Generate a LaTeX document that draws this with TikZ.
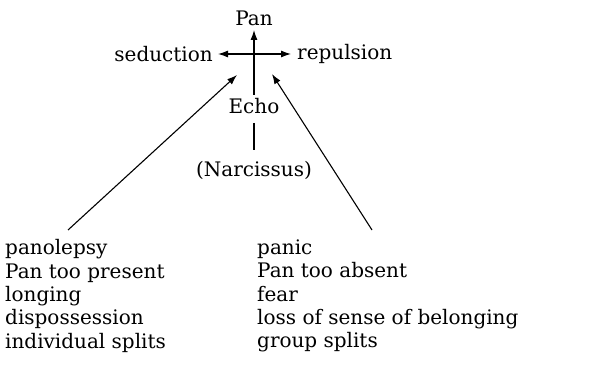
\documentclass[tikz,border=0pt]{standalone}
\usepackage{fontspec}
\setmainfont{DejaVu Serif}
\usetikzlibrary{arrows.meta}
\begin{document}
\begin{tikzpicture}[x=1pt,y=-1pt,
  lbl/.style={inner sep=0pt, font=\fontsize{20}{23.3}\selectfont},
  lst/.style={inner sep=0pt, align=left, anchor=north west, font=\fontsize{20}{23.3}\selectfont},
  arr/.style={line width=1.1pt, -{Latex[length=10pt,width=7pt]}},
  ln/.style={line width=1.1pt}]
\useasboundingbox (0,0) rectangle (607,371);
\node[lbl] (pan) at (254,18) {Pan};
\node[lbl, anchor=east] (sed) at (213,54) {seduction};
\node[lbl, anchor=west] (rep) at (297,54) {repulsion};
\node[lbl] (echo) at (254,106) {Echo};
\node[lbl] (narc) at (254,170) {(Narcissus)};
\coordinate (c) at (254,54);
\coordinate (vt) at (254,30);
\coordinate (vb) at (254,95);
\coordinate (ht) at (218,54);
\coordinate (rt) at (291,54);
\coordinate (et) at (254,123);
\coordinate (eb) at (254,150);
\coordinate (lt) at (237,75);
\coordinate (lb) at (68,230);
\coordinate (rtip) at (272,74);
\coordinate (rb) at (372,230);
\draw[arr] (vb) -- (vt);
\draw[arr] (c) -- (ht);
\draw[arr] (c) -- (rt);
\draw[ln] (et) -- (eb);
\draw[arr] (lb) -- (lt);
\draw[arr] (rb) -- (rtip);
\node[lst] (left) at (5,239.5) {panolepsy\\Pan too present\\longing\\dispossession\\individual splits};
\node[lst] (right) at (257,239.5) {panic\\Pan too absent\\fear\\loss of sense of belonging\\group splits};
\end{tikzpicture}
\end{document}
